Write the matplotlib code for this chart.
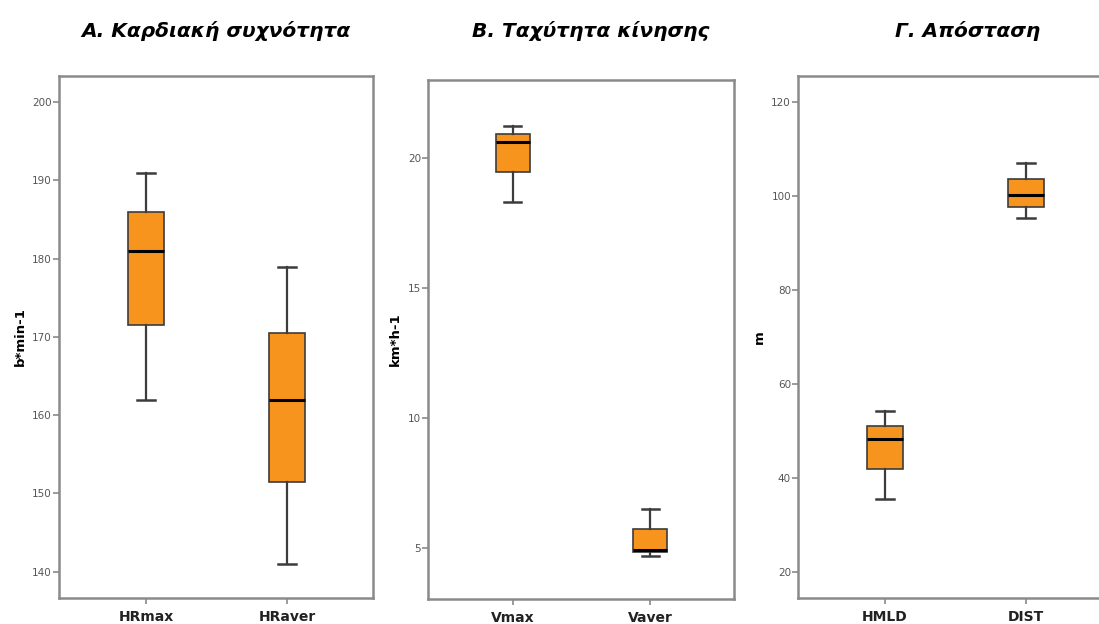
import matplotlib
matplotlib.use("Agg")
import matplotlib.pyplot as plt

# ---- data ----
titles = ["Α. Καρδιακή συχνότητα", "Β. Ταχύτητα κίνησης", "Γ. Απόσταση"]
ylabels = ["b*min-1", "km*h-1", "m"]
categories = [["HRmax", "HRaver"], ["Vmax", "Vaver"], ["HMLD", "DIST"]]

# per panel: [cat1, cat2] -> whislo, q1, med, q3, whishi
hr_whislo = [162.0, 141.0]
hr_q1 = [171.5, 151.5]
hr_med = [181.0, 162.0]
hr_q3 = [186.0, 170.5]
hr_whishi = [191.0, 179.0]

v_whislo = [18.3, 4.7]
v_q1 = [19.45, 4.82]
v_med = [20.6, 4.9]
v_q3 = [20.9, 5.72]
v_whishi = [21.2, 6.5]

d_whislo = [35.6, 95.3]
d_q1 = [42.0, 97.8]
d_med = [48.4, 100.3]
d_q3 = [51.2, 103.7]
d_whishi = [54.4, 107.0]

yticks = [[140, 150, 160, 170, 180, 190, 200], [5, 10, 15, 20], [20, 40, 60, 80, 100, 120]]
ylims = [(136.64, 203.35), (3.03, 22.98), (14.5, 125.6)]

panels = [
    (hr_whislo, hr_q1, hr_med, hr_q3, hr_whishi),
    (v_whislo, v_q1, v_med, v_q3, v_whishi),
    (d_whislo, d_q1, d_med, d_q3, d_whishi),
]

W, H = 1099, 624
fig = plt.figure(figsize=(W / 100, H / 100), dpi=100)

# axes rectangles in pixels: left, top, right, bottom
rects_px = [(59, 76, 373, 598), (428, 80, 734, 599), (798, 76, 1112, 598)]
title_x_px = [216, 591, 968]

frame_col = "#8a8a8a"
box_fill = "#F7941D"
edge_col = "#3c3c3c"

for i, (rect, data) in enumerate(zip(rects_px, panels)):
    l, t, r, b = rect
    ax = fig.add_axes([l / W, 1 - b / H, (r - l) / W, (b - t) / H])
    whislo, q1, med, q3, whishi = data
    stats = []
    for k in range(2):
        stats.append(dict(label=categories[i][k], whislo=whislo[k], q1=q1[k],
                          med=med[k], q3=q3[k], whishi=whishi[k], fliers=[]))
    ax.bxp(stats, positions=[1, 2], widths=0.25, patch_artist=True,
           showfliers=False,
           boxprops=dict(facecolor=box_fill, edgecolor=edge_col, linewidth=1.2),
           medianprops=dict(color="black", linewidth=2.2),
           whiskerprops=dict(color=edge_col, linewidth=1.6),
           capprops=dict(color=edge_col, linewidth=1.8),
           capwidths=0.125)
    ax.set_xlim(0.383, 2.61)
    ax.set_ylim(*ylims[i])
    ax.set_yticks(yticks[i])
    ax.set_yticklabels([str(v) for v in yticks[i]], fontsize=7.5, color="#555555")
    ax.set_xticks([1, 2])
    ax.set_xticklabels(categories[i], fontsize=10, fontweight="bold", color="#222222")
    ax.tick_params(axis="y", length=4, width=1.2, color=frame_col, pad=1)
    ax.tick_params(axis="x", length=4, width=1.2, color=frame_col, pad=4.5)
    ax.set_ylabel(ylabels[i], fontsize=9.5, fontweight="bold", labelpad=4)
    for sp in ax.spines.values():
        sp.set_color(frame_col)
        sp.set_linewidth(1.8)
    fig.text(title_x_px[i] / W, 1 - 31 / H, titles[i], ha="center", va="center",
             fontsize=14.5, fontweight="bold", fontstyle="italic", color="black")

fig.savefig("out.png", dpi=100)
